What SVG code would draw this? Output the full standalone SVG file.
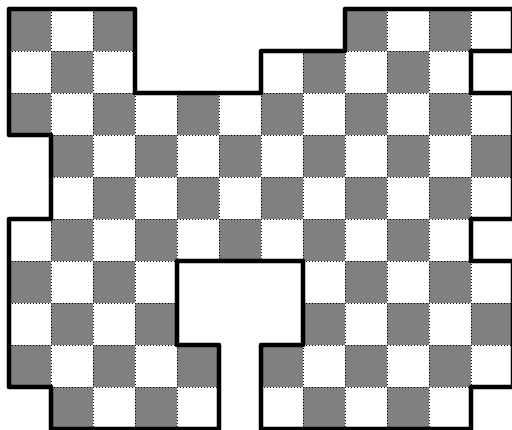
<svg xmlns="http://www.w3.org/2000/svg" width="512" height="430" viewBox="0 0 512 430">
<style>
.grid{stroke:#000;stroke-width:1;stroke-dasharray:1 2;fill:none}
.outline{fill:none;stroke:#000;stroke-width:4.5;stroke-linejoin:round;stroke-linecap:round}
</style>
<defs>
<pattern id="checker" x="9" y="9" width="84" height="84" patternUnits="userSpaceOnUse">
<rect width="84" height="84" fill="#fff"/>
<rect width="42" height="42" fill="#808080"/>
<rect x="42" y="42" width="42" height="42" fill="#808080"/>
</pattern>
<path id="shape" d="M9,9 H135 V93 H261 V51 H345 V9 H513 V51 H471 V93 H513 V219 H471 V261 H513 V387 H471 V429 H261 V345 H303 V261 H177 V345 H219 V429 H51 V387 H9 V219 H51 V135 H9 Z"/>
<clipPath id="clip"><use href="#shape"/></clipPath>
</defs>
<rect width="512" height="430" fill="#fff"/>
<g id="board">
<use href="#shape" fill="url(#checker)"/>
<g id="gridlines" clip-path="url(#clip)">
<path class="grid" d="M51.5,9V429M93.5,9V429M135.5,9V429M177.5,9V429M219.5,9V429M261.5,9V429M303.5,9V429M345.5,9V429M387.5,9V429M429.5,9V429M471.5,9V429M9,51.5H513M9,93.5H513M9,135.5H513M9,177.5H513M9,219.5H513M9,261.5H513M9,303.5H513M9,345.5H513M9,387.5H513"/>
</g>
<use href="#shape" class="outline"/>
</g>
</svg>
